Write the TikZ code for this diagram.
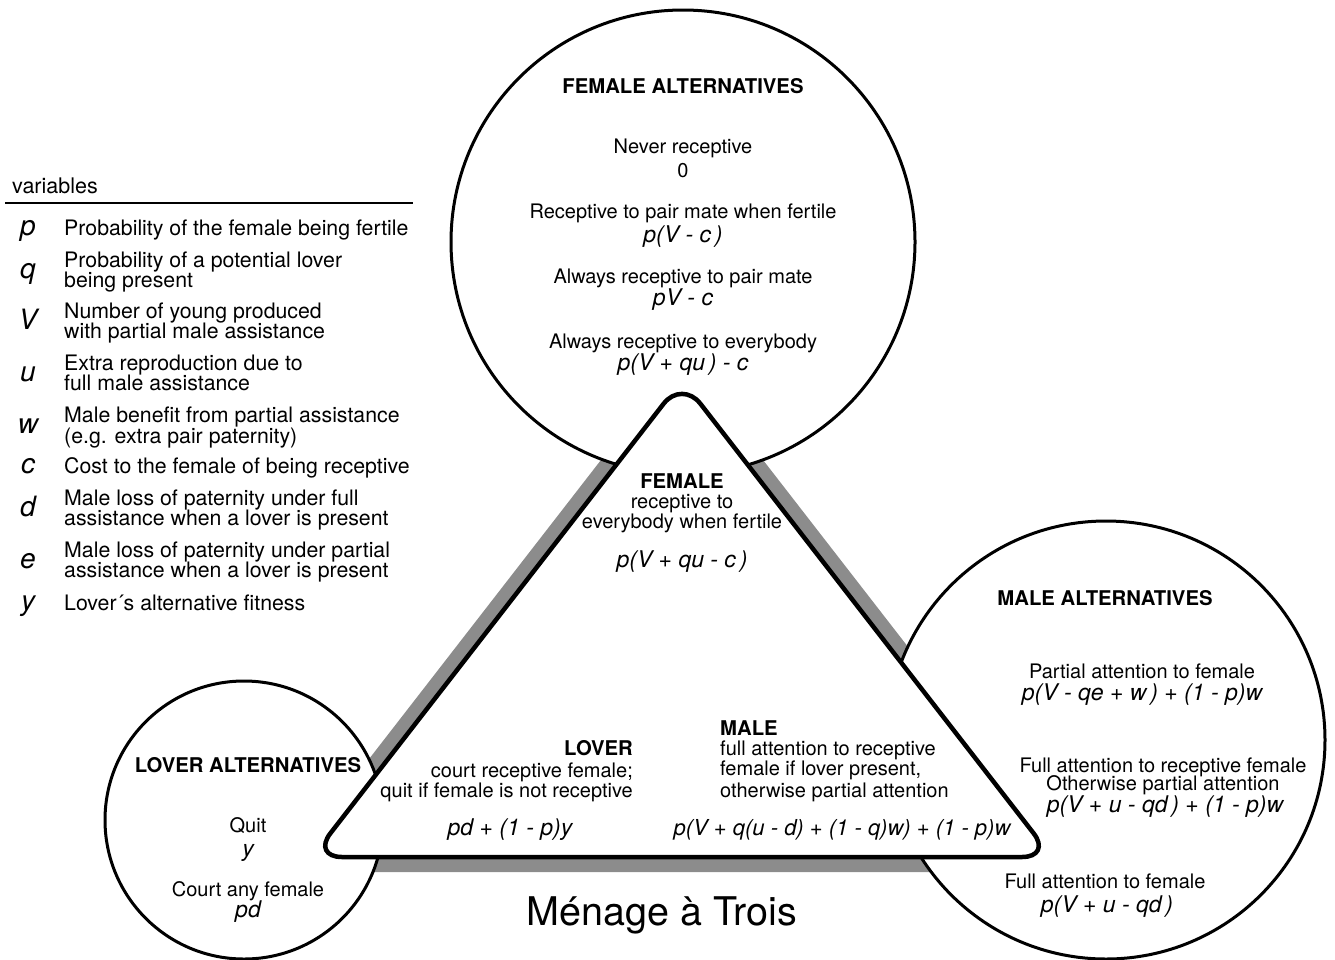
\documentclass[tikz,border=0pt]{standalone}
\usepackage{fontspec}
\setmainfont{TeX Gyre Heros}
\tikzset{
  bl/.style={anchor=base, inner sep=0pt},
  tx/.style={bl, font=\fontsize{20}{22}\selectfont},
  hd/.style={bl, font=\fontsize{20.3}{22}\selectfont\bfseries},
  fm/.style={bl, font=\fontsize{23}{25}\selectfont\itshape},
  vt/.style={anchor=base west, inner sep=0pt, font=\fontsize{21.3}{23}\selectfont},
  vl/.style={bl, font=\fontsize{28}{30}\selectfont\itshape},
  le/.style={anchor=base east, inner sep=0pt, font=\fontsize{20}{22}\selectfont},
  lw/.style={anchor=base west, inner sep=0pt, font=\fontsize{20}{22}\selectfont},
  bubble/.style={circle, draw=black, fill=white, line width=3pt, inner sep=0pt},
  band/.style={draw=black!45, line width=30pt, rounded corners=30pt},
  tri/.style={draw=black, fill=white, line width=4.5pt, rounded corners=30pt},
}
\begin{document}
\begin{tikzpicture}[x=1pt,y=-1pt]
\useasboundingbox (0,0) rectangle (1335,959);
\coordinate (A) at (682,380);
\coordinate (B) at (312,857);
\coordinate (C) at (1052,857);
% shadow band
\draw[band] (A) -- (B) -- (C) -- cycle;
% circles
\node[bubble, minimum size=464pt] (fem) at (683,242) {};
\node[bubble, minimum size=278pt] (lov) at (244,820) {};
\node[bubble, minimum size=438pt] (mal) at (1106,740) {};
% triangle
\draw[tri] (A) -- (B) -- (C) -- cycle;

% variables legend
\node[anchor=base west, inner sep=0pt, font=\fontsize{21.5}{23}\selectfont] (vh) at (12,193) {variables};
\coordinate (r1) at (5,203);
\coordinate (r2) at (413,203);
\draw[line width=1.2pt] (r1) -- (r2);
\node[vl] (lp) at (28,235) {p};
\node[vt] (tp) at (64,235) {Probability of the female being fertile};
\node[vl] (lq) at (28,278) {q};
\node[vt] (tq1) at (64,267) {Probability of a potential lover};
\node[vt] (tq2) at (64,287) {being present};
\node[vl] (lV) at (28,329) {V};
\node[vt] (tV1) at (64,318) {Number of young produced};
\node[vt] (tV2) at (64,338) {with partial male assistance};
\node[vl] (lu) at (28,381) {u};
\node[vt] (tu1) at (64,370) {Extra reproduction due to};
\node[vt] (tu2) at (64,390) {full male assistance};
\node[vl] (lw) at (28,433) {w};
\node[vt] (tw1) at (64,422) {Male benefit from partial assistance};
\node[vt] (tw2) at (64,443) {(e.g. extra pair paternity)};
\node[vl] (lc) at (28,473) {c};
\node[vt] (tc) at (64,473) {Cost to the female of being receptive};
\node[vl] (ld) at (28,516) {d};
\node[vt] (td1) at (64,505) {Male loss of paternity under full};
\node[vt] (td2) at (64,525) {assistance when a lover is present};
\node[vl] (le) at (28,568) {e};
\node[vt] (te1) at (64,557) {Male loss of paternity under partial};
\node[vt] (te2) at (64,577) {assistance when a lover is present};
\node[vl] (ly) at (28,610) {y};
\node[vt] (ty) at (64,610) {Lover´s alternative fitness};

% female alternatives
\node[hd] (fa0) at (683,93) {FEMALE ALTERNATIVES};
\node[tx] (fa1) at (683,153) {Never receptive};
\node[tx] (fa1f) at (683,177) {0};
\node[tx] (fa2) at (683,218) {Receptive to pair mate when fertile};
\node[fm] (fa2f) at (683,242) {p(V - c\,)};
\node[tx] (fa3) at (683,283) {Always receptive to pair mate};
\node[fm] (fa3f) at (683,305) {pV - c};
\node[tx] (fa4) at (683,348) {Always receptive to everybody};
\node[fm] (fa4f) at (683,370) {p(V + qu\,) - c};

% triangle: female
\node[hd] (tf0) at (682,488) {FEMALE};
\node[tx] (tf1) at (682,508) {receptive to};
\node[tx] (tf2) at (682,528) {everybody when fertile};
\node[fm] (tff) at (682,567) {p(V + qu - c\,)};

% triangle: lover
\node[le, font=\fontsize{20.3}{22}\selectfont\bfseries] (tl0) at (633,755) {LOVER};
\node[le] (tl1) at (633,777) {court receptive female;};
\node[le] (tl2) at (633,797) {quit if female is not receptive};
\node[fm] (tlf) at (510,835) {pd + (1 - p)y};

% triangle: male
\node[lw, font=\fontsize{20.3}{22}\selectfont\bfseries] (tm0) at (720,735) {MALE};
\node[lw] (tm1) at (720,755) {full attention to receptive};
\node[lw] (tm2) at (720,775) {female if lover present,};
\node[lw] (tm3) at (720,797) {otherwise partial attention};
\node[fm, font=\fontsize{22}{24}\selectfont\itshape] (tmf) at (842,835) {p(V + q(u - d) + (1 - q)w) + (1 - p)w};

% lover alternatives
\node[hd] (la0) at (248,772) {LOVER ALTERNATIVES};
\node[tx] (la1) at (248,832) {Quit};
\node[fm] (la1f) at (248,856) {y};
\node[tx] (la2) at (248,896) {Court any female};
\node[fm] (la2f) at (248,917) {pd};

% male alternatives
\node[hd] (ma0) at (1105,605) {MALE ALTERNATIVES};
\node[tx] (ma1) at (1142,678) {Partial attention to female};
\node[fm] (ma1f) at (1142,700) {p(V - qe + w\,) + (1 - p)w};
\node[tx] (ma2) at (1163,772) {Full attention to receptive female};
\node[tx] (ma2b) at (1163,790) {Otherwise partial attention};
\node[fm] (ma2f) at (1165,812) {p(V + u - qd\,) + (1 - p)w};
\node[tx] (ma3) at (1105,888) {Full attention to female};
\node[fm] (ma3f) at (1107,912) {p(V + u - qd\,)};

% title
\node[bl, font=\fontsize{39.5}{42}\selectfont] (title) at (662,925) {Ménage à Trois};
\end{tikzpicture}
\end{document}
